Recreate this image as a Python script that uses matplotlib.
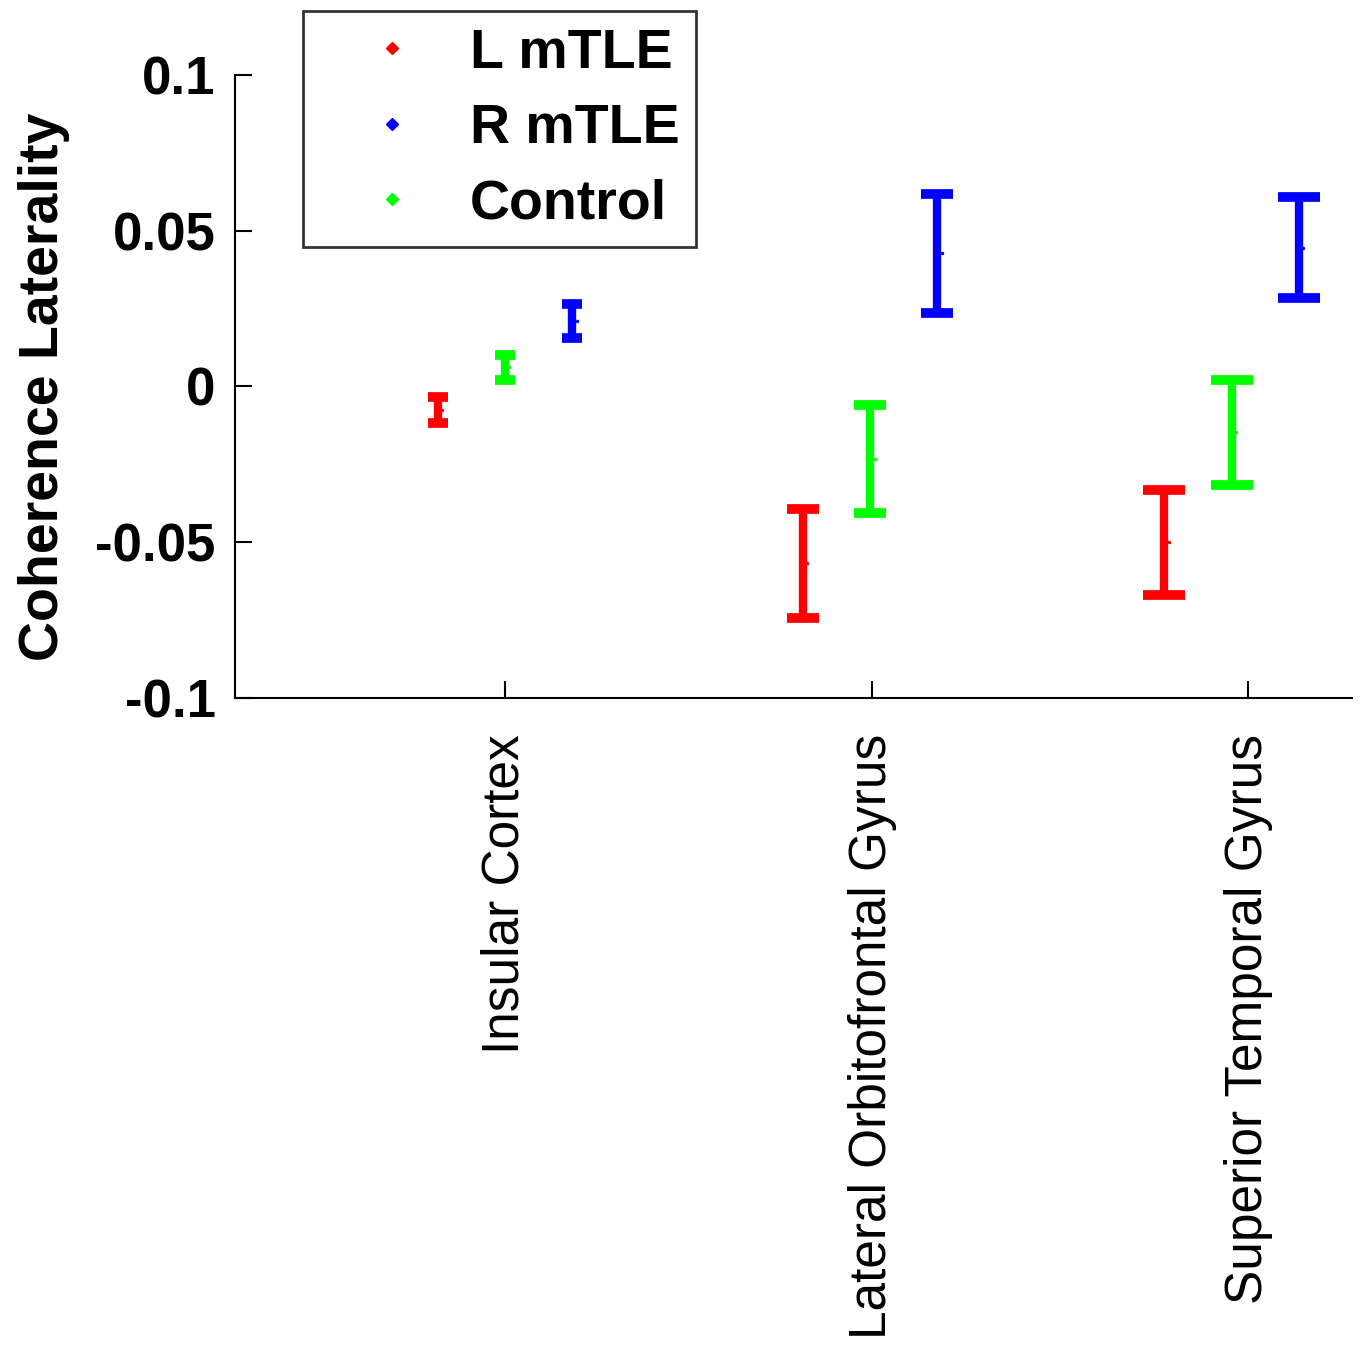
"""Coherence laterality by region for left/right mTLE and control groups."""

import matplotlib
matplotlib.use("Agg")
import matplotlib.pyplot as plt
from matplotlib.lines import Line2D

plt.rcParams["font.family"] = ["Liberation Sans", "DejaVu Sans"]

regions = ["Insular Cortex", "Lateral Orbitofrontal Gyrus", "Superior Temporal Gyrus"]
groups = ["L mTLE", "R mTLE", "Control"]

# mean and half-width of the error bar for each group, one value per region
l_mtle_mean = [-0.0075, -0.0567, -0.0500]
l_mtle_err = [0.0042, 0.0175, 0.0168]
r_mtle_mean = [0.0210, 0.0427, 0.0445]
r_mtle_err = [0.0055, 0.0190, 0.0162]
control_mean = [0.0062, -0.0232, -0.0147]
control_err = [0.0040, 0.0173, 0.0168]

region_ticks = [1.0, 2.0, 3.025]
region_centers = [1.0, 1.995, 2.98]
group_offsets = {"L mTLE": -0.183, "Control": 0.0, "R mTLE": 0.183}
colors = {"L mTLE": "#ff0000", "R mTLE": "#0000ff", "Control": "#00ff00"}
capsizes = [7, 11.5, 15]

means = {"L mTLE": l_mtle_mean, "R mTLE": r_mtle_mean, "Control": control_mean}
errs = {"L mTLE": l_mtle_err, "R mTLE": r_mtle_err, "Control": control_err}

fig = plt.figure(figsize=(13.6, 13.55), dpi=100)
ax = fig.add_axes([0.1728, 0.4849, 0.8213, 0.4598])

for g in ["L mTLE", "Control", "R mTLE"]:
    for i in range(len(regions)):
        x = region_centers[i] + group_offsets[g]
        ax.errorbar(x, means[g][i], yerr=errs[g][i], fmt="none",
                    ecolor=colors[g], elinewidth=6, capsize=capsizes[i],
                    capthick=7)
        # small dot at the mean, just right of the bar
        ax.plot(x + 0.012, means[g][i], marker="o", markersize=2.5,
                color=colors[g], markeredgewidth=0)

ax.set_xlim(0.264, 3.308)
ax.set_ylim(-0.1, 0.1)
ax.set_yticks([-0.1, -0.05, 0, 0.05, 0.1])
ax.set_yticklabels(["-0.1", "-0.05", "0", "0.05", "0.1"], fontsize=38, fontweight="bold")
ax.set_xticks(region_ticks)
ax.set_xticklabels(regions, rotation=90, fontsize=37, va="top", ha="center")
ax.set_ylabel("Coherence Laterality", fontsize=40, fontweight="bold", labelpad=18)

for side in ["top", "right"]:
    ax.spines[side].set_visible(False)
for side in ["left", "bottom"]:
    ax.spines[side].set_linewidth(1.5)
ax.tick_params(axis="both", direction="in", length=12, width=1.5)
ax.tick_params(axis="x", pad=26)
ax.tick_params(axis="y", pad=14)

handles = [Line2D([], [], linestyle="none", marker="D", markersize=6,
                  color=colors[g]) for g in groups]
leg = fig.legend(handles, groups, loc="upper left",
                 bbox_to_anchor=(303 / 1360, 1 - 11 / 1355),
                 prop={"size": 40, "weight": "bold"}, frameon=True,
                 fancybox=False, edgecolor="black", borderpad=0.3,
                 handlelength=2.6, handletextpad=0.1, labelspacing=0.42,
                 borderaxespad=0)
leg.get_frame().set_linewidth(2)

fig.savefig("out.png", dpi=100, facecolor="white")
